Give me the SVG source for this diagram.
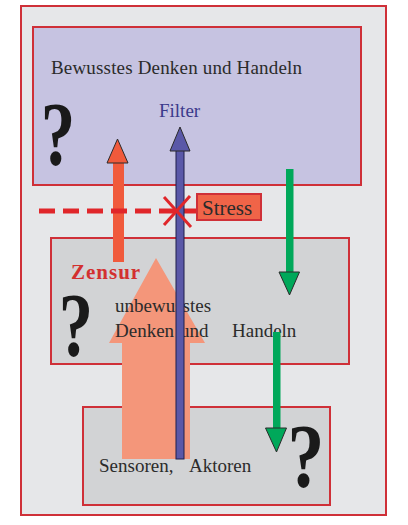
<svg xmlns="http://www.w3.org/2000/svg" width="408" height="525" viewBox="0 0 408 525">
<style>
.box{stroke:#cf3038;stroke-width:2}
.t{font-family:"Liberation Serif",serif;font-size:19px;fill:#2b2b2b}
.q{font-family:"Liberation Serif",serif;font-weight:bold;font-size:92px;fill:#1a1a1a;text-anchor:middle}
.hd{stroke:#2a2a2a;stroke-width:1}
</style>
<rect width="408" height="525" fill="#ffffff"/>
<g id="outer"><rect class="box" x="21" y="6" width="365" height="509" fill="#e6e7e9"/></g>
<g id="bewusst">
<rect class="box" x="33" y="27" width="328" height="158" fill="#c6c3e1"/>
<text class="t" x="51" y="74" textLength="251">Bewusstes Denken und Handeln</text>
<text class="q" transform="translate(58,165) scale(0.75,1)" x="0" y="0">?</text>
</g>
<g id="unbewusst">
<rect class="box" x="51" y="238" width="298" height="126" fill="#d2d3d5"/>
</g>
<g id="sensoren">
<rect class="box" x="83" y="407" width="247" height="98" fill="#d2d3d5"/>
</g>
<g id="connectors">
<polygon points="156,258 205,343 190,343 190,459 122,459 122,343 109,343" fill="#f4967a"/>
</g>
<g id="labels">
<text x="71" y="279" style="font-family:'Liberation Serif',serif;font-size:21px;font-weight:bold;fill:#d3302f;letter-spacing:1px">Zensur</text>
<text class="q" style="font-size:88px" transform="translate(76,356) scale(0.78,1.04)" x="0" y="0">?</text>
<text class="t" x="115" y="312">unbewusstes</text>
<text class="t" y="337"><tspan x="115">Denken</tspan><tspan x="180">und</tspan><tspan x="232">Handeln</tspan></text>
<text class="t" y="472"><tspan x="99">Sensoren,</tspan><tspan x="189">Aktoren</tspan></text>
<text class="q" transform="translate(306,487) scale(0.8,1)" x="0" y="0">?</text>
<text x="159" y="117" style="font-family:'Liberation Serif',serif;font-size:19px;fill:#3b3a8c">Filter</text>
</g>
<g id="connectors2">
<rect x="113" y="162" width="11" height="100" fill="#f05a3c"/>
<polygon class="hd" points="117.5,139 128,163 107,163" fill="#f05a3c"/>
<line x1="39" y1="211" x2="197" y2="211" stroke="#e0262a" stroke-width="5" stroke-dasharray="16 8"/>
<rect x="176" y="150" width="8" height="309" fill="#5a58a8" stroke="#1f1f4a" stroke-width="1"/>
<polygon class="hd" points="180,127 190,151 170,151" fill="#5a58a8"/>
<g stroke="#e0262a" stroke-width="3">
<line x1="164" y1="197" x2="191" y2="227"/>
<line x1="190" y1="196" x2="164" y2="225"/>
</g>
<rect x="286" y="169" width="7.5" height="104" fill="#00a85a"/>
<polygon class="hd" points="279,272 299.5,272 289.5,295" fill="#00a85a"/>
<rect x="273" y="332" width="7.5" height="97" fill="#00a85a"/>
<polygon class="hd" points="265.5,428 286.5,428 276.5,452" fill="#00a85a"/>
</g>
<g id="stress">
<rect x="197" y="194" width="64" height="26" fill="#f06448" stroke="#cf3038" stroke-width="2"/>
<text x="202" y="215" style="font-family:'Liberation Serif',serif;font-size:21px;fill:#2b2b2b">Stress</text>
</g>
</svg>
